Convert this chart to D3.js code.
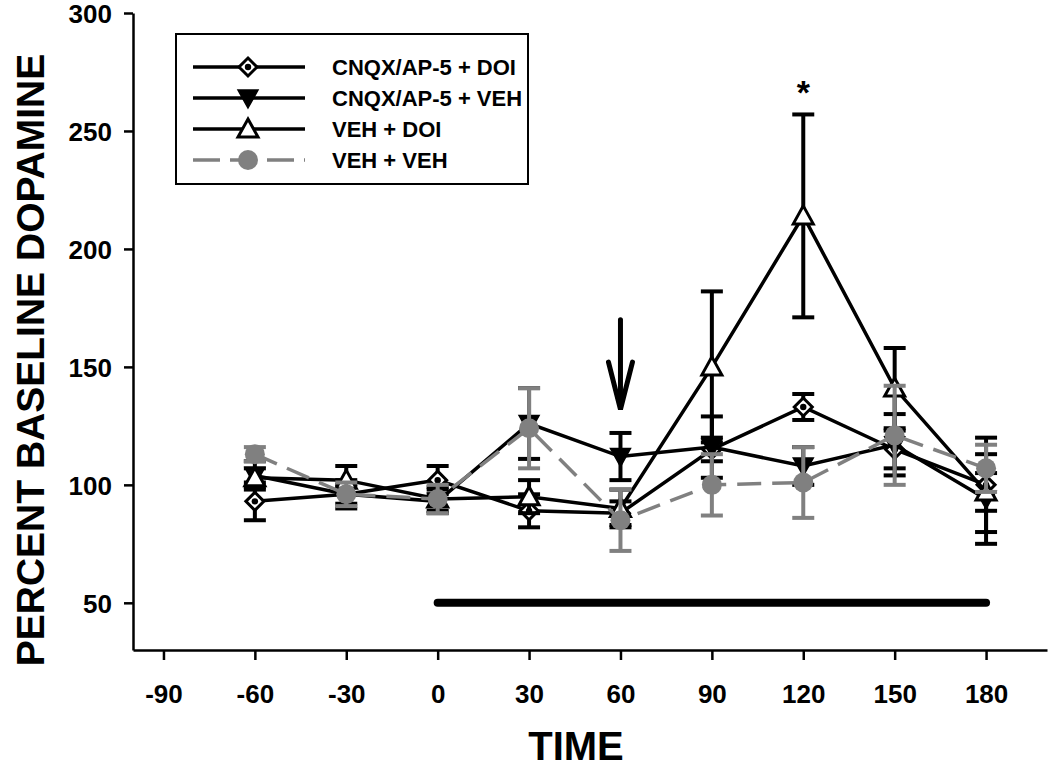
<!DOCTYPE html>
<html>
<head>
<meta charset="utf-8">
<script src="https://cdn.jsdelivr.net/npm/d3@7"></script>
<style>
body { margin: 0; background: #fff; }
svg text { font-family: Arial, "Liberation Sans", sans-serif; font-weight: bold; }
</style>
</head>
<body>
<svg id="chart" width="1050" height="772"></svg>
<script>
// time points (min)
var times = [-60, -30, 0, 30, 60, 90, 120, 150, 180];
var xTicks = [-90, -60, -30, 0, 30, 60, 90, 120, 150, 180];
var yTicks = [50, 100, 150, 200, 250, 300];

// series: mean and SEM
var cnqxDoi    = [93, 96, 102, 89, 88, 115, 133, 115, 100];
var cnqxDoiErr = [8, 4, 6, 7, 5, 5, 5.5, 8, 20];
var cnqxVeh    = [104, 96, 93, 126, 112, 116, 108, 117, 94];
var cnqxVehErr = [6, 6, 5, 15, 10, 13, 8, 13, 19];
var vehDoi     = [103, 102, 94, 95, 90, 150, 214, 141, 97];
var vehDoiErr  = [4, 6, 5, 7, 8, 32, 43, 17, 8];
var vehVeh     = [113, 96, 94, 124, 85, 100, 101, 121, 107];
var vehVehErr  = [3, 5, 6, 17, 13, 13, 15, 21, 10];

var legendLabels = ["CNQX/AP-5 + DOI", "CNQX/AP-5 + VEH", "VEH + DOI", "VEH + VEH"];

// drug infusion bar and arrow, in data units
var barRange = [0, 180], barValue = 50;
var arrowTime = 60, arrowFrom = 170, arrowTo = 132, arrowWing = 152;
var starTime = 120, starValue = 268;

var svg = d3.select("#chart");

var x = d3.scaleLinear().domain([-100, 200]).range([133, 1047]);
var y = d3.scaleLinear().domain([30, 300]).range([650, 13]);

var grey = "#808080";

// axes
var xAxis = svg.append("g")
    .attr("transform", "translate(0,650)")
    .call(d3.axisBottom(x).tickValues(xTicks).tickFormat(String)
        .tickSize(10).tickSizeOuter(0).tickPadding(25));
var yAxis = svg.append("g")
    .attr("transform", "translate(133,0)")
    .call(d3.axisLeft(y).tickValues(yTicks).tickFormat(String)
        .tickSize(9).tickSizeOuter(0).tickPadding(12));

[xAxis, yAxis].forEach(function(a) {
    a.selectAll("path").attr("stroke", "#000").attr("stroke-width", 2.5);
    a.selectAll("line").attr("stroke", "#000").attr("stroke-width", 2.5);
    a.selectAll("text").attr("fill", "#000").style("font-size", "26px")
        .style("font-family", "Arial, 'Liberation Sans', sans-serif").style("font-weight", "bold");
});
yAxis.selectAll("text").attr("dy", "0.36em");

svg.append("text").attr("x", 576).attr("y", 760)
    .attr("text-anchor", "middle").style("font-size", "40px").text("TIME");
svg.append("text")
    .attr("transform", "translate(44,360) rotate(-90)")
    .attr("text-anchor", "middle").style("font-size", "39px").text("PERCENT BASELINE DOPAMINE");

// markers
var r = 9;
var diamondPath = "M0," + (-r) + "L" + r + ",0L0," + r + "L" + (-r) + ",0Z";
var triUp = "M0,-10L10,8L-10,8Z";
var triDown = "M0,10L10,-8L-10,-8Z";

function drawMarker(g, kind) {
    if (kind === "diamond") {
        g.append("path").attr("d", diamondPath).attr("fill", "#fff").attr("stroke", "#000").attr("stroke-width", 3);
        g.append("circle").attr("r", 3.2).attr("fill", "#000");
    } else if (kind === "down") {
        g.append("path").attr("d", triDown).attr("fill", "#000").attr("stroke", "#000").attr("stroke-width", 1.5);
    } else if (kind === "up") {
        g.append("path").attr("d", triUp).attr("fill", "#fff").attr("stroke", "#000").attr("stroke-width", 3);
    } else {
        g.append("circle").attr("r", 10).attr("fill", grey);
    }
}

var series = [
    {name: legendLabels[0], vals: cnqxDoi, err: cnqxDoiErr, color: "#000", dash: null, marker: "diamond"},
    {name: legendLabels[1], vals: cnqxVeh, err: cnqxVehErr, color: "#000", dash: null, marker: "down"},
    {name: legendLabels[2], vals: vehDoi, err: vehDoiErr, color: "#000", dash: null, marker: "up"},
    {name: legendLabels[3], vals: vehVeh, err: vehVehErr, color: grey, dash: "24,11", marker: "circle"}
];

var line = d3.line().x(function(d) { return x(d.t); }).y(function(d) { return y(d.v); });
var capW = 11;

series.forEach(function(s) {
    var pts = times.map(function(t, i) { return {t: t, v: s.vals[i], e: s.err[i]}; });
    var g = svg.append("g");

    // error bars
    var eb = g.selectAll(".eb").data(pts).enter().append("g")
        .attr("stroke", s.color).attr("stroke-width", 4);
    eb.append("line")
        .attr("x1", function(d) { return x(d.t); }).attr("x2", function(d) { return x(d.t); })
        .attr("y1", function(d) { return y(d.v + d.e); }).attr("y2", function(d) { return y(d.v - d.e); });
    eb.append("line")
        .attr("x1", function(d) { return x(d.t) - capW; }).attr("x2", function(d) { return x(d.t) + capW; })
        .attr("y1", function(d) { return y(d.v + d.e); }).attr("y2", function(d) { return y(d.v + d.e); });
    eb.append("line")
        .attr("x1", function(d) { return x(d.t) - capW; }).attr("x2", function(d) { return x(d.t) + capW; })
        .attr("y1", function(d) { return y(d.v - d.e); }).attr("y2", function(d) { return y(d.v - d.e); });

    g.append("path").datum(pts).attr("d", line)
        .attr("fill", "none").attr("stroke", s.color).attr("stroke-width", 3.5)
        .attr("stroke-dasharray", s.dash);

    g.selectAll(".mk").data(pts).enter().append("g")
        .attr("transform", function(d) { return "translate(" + x(d.t) + "," + y(d.v) + ")"; })
        .each(function() { drawMarker(d3.select(this), s.marker); });
});

// treatment bar
svg.append("line")
    .attr("x1", x(barRange[0])).attr("x2", x(barRange[1]))
    .attr("y1", y(barValue)).attr("y2", y(barValue))
    .attr("stroke", "#000").attr("stroke-width", 8).attr("stroke-linecap", "round");

// arrow at 60 min
var ax = x(arrowTime);
svg.append("line").attr("x1", ax).attr("x2", ax).attr("y1", y(arrowFrom)).attr("y2", y(arrowTo) - 4)
    .attr("stroke", "#000").attr("stroke-width", 5).attr("stroke-linecap", "round");
svg.append("path")
    .attr("d", "M" + (ax - 12) + "," + y(arrowWing) + "L" + ax + "," + y(arrowTo) + "L" + (ax + 12) + "," + y(arrowWing))
    .attr("fill", "none").attr("stroke", "#000").attr("stroke-width", 5)
    .attr("stroke-linejoin", "miter").attr("stroke-linecap", "round");

svg.append("text").attr("x", x(starTime)).attr("y", y(starValue) + 16)
    .attr("text-anchor", "middle").style("font-size", "34px").text("*");

// legend
var leg = svg.append("g");
leg.append("rect").attr("x", 176).attr("y", 34).attr("width", 352).attr("height", 150)
    .attr("fill", "#fff").attr("stroke", "#000").attr("stroke-width", 2);
series.forEach(function(s, i) {
    var ly = 67 + i * 31;
    leg.append("line").attr("x1", 193).attr("x2", 305).attr("y1", ly).attr("y2", ly)
        .attr("stroke", s.color).attr("stroke-width", 3.5).attr("stroke-dasharray", s.dash ? "27,10" : null);
    var m = leg.append("g").attr("transform", "translate(248," + ly + ")");
    drawMarker(m, s.marker);
    leg.append("text").attr("x", 332).attr("y", ly).attr("dy", "0.36em")
        .style("font-size", "22px").text(s.name);
});
</script>
</body>
</html>
